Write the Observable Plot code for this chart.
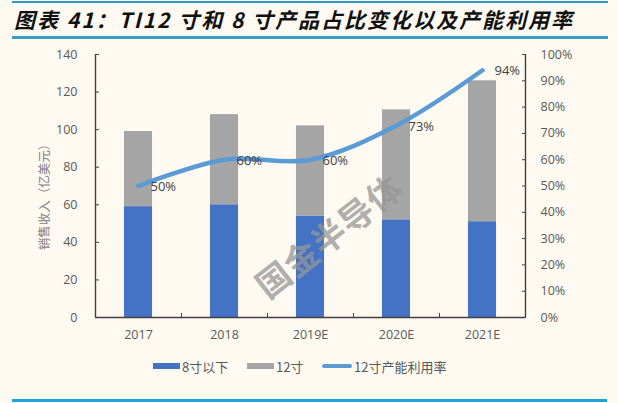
<!DOCTYPE html>
<html>
<head>
<meta charset="utf-8">
<script src="https://cdn.jsdelivr.net/npm/d3@7"></script>
<script src="https://cdn.jsdelivr.net/npm/@observablehq/plot@0.6"></script>
<style>
  html, body { margin: 0; padding: 0; background: #fefaf1; }
  #wrap { position: relative; width: 618px; height: 403px; overflow: hidden; background: #fefaf1;
          font-family: "Open Sans", "Noto Sans CJK SC", sans-serif; }
  .hr { position: absolute; left: 12px; width: 596px; }
  #title { position: absolute; left: 14px; top: 4px; font-family: "Noto Sans CJK SC", sans-serif;
           font-weight: bold; font-style: italic; font-size: 21px; letter-spacing: 2px; color: #111; white-space: nowrap; }
  #chart { position: absolute; left: 0; top: 40px; }
  #ytitle { position: absolute; left: 43px; top: 194px; transform: translate(-50%, -50%) rotate(-90deg);
            font-family: "Noto Sans CJK SC", sans-serif; font-size: 12.5px; color: #808080; white-space: nowrap; }
  #wm { position: absolute; left: 328px; top: 235px; transform: translate(-50%, -50%) rotate(-38deg);
        font-family: "Noto Sans CJK SC", sans-serif; font-weight: bold; font-size: 34px; color: rgba(150,150,150,0.75);
        white-space: nowrap; letter-spacing: 1px; }
  #legend { position: absolute; top: 358px; left: 0; width: 618px; height: 16px;
            font-family: "Noto Sans CJK SC", sans-serif; font-size: 13px; color: #595959; }
  .li { position: absolute; top: 0; display: flex; align-items: center; height: 16px; white-space: nowrap; }
  .sw { display: inline-block; margin-right: 2px; }
</style>
</head>
<body>
<div id="wrap">
  <div class="hr" style="top:1px;height:2px;background:#2c9bd0;"></div>
  <div id="title">图表 41：TI12 寸和 8 寸产品占比变化以及产能利用率</div>
  <div class="hr" style="top:36px;height:3px;background:#3a9cc2;"></div>
  <div id="chart"></div>
  <div id="ytitle">销售收入（亿美元）</div>
  <div id="wm">国金半导体</div>
  <div id="legend"></div>
  <div class="hr" style="top:399px;height:3px;background:#1aa3dc;width:595px;"></div>
</div>
<script>
// ---- data ----
const categories = ["2017", "2018", "2019E", "2020E", "2021E"];
const below8 = [59, 60, 54, 52, 51];          // 8寸以下 (亿美元)
const inch12 = [40, 48, 48, 58.5, 75];        // 12寸 (亿美元)
const utilization = [0.50, 0.60, 0.60, 0.73, 0.94]; // 12寸产能利用率
const leftTicks = [0, 20, 40, 60, 80, 100, 120, 140];
const rightTicks = [0, 10, 20, 30, 40, 50, 60, 70, 80, 90, 100]; // %
const seriesNames = ["8寸以下", "12寸", "12寸产能利用率"];
const colors = ["#4472c4", "#a5a5a5", "#5b9bd5"];

const yMax = 140;
const half = 0.163;
const rows = categories.map((c, i) => ({
  i, c,
  b: below8[i],
  t: below8[i] + inch12[i],
  u: utilization[i],
  uy: utilization[i] * yMax
}));

const axisColor = "#404040";
const labelColor = "#595959";

const chart = Plot.plot({
  width: 618,
  height: 310,
  marginTop: 14,
  marginBottom: 33,
  marginLeft: 95,
  marginRight: 93,
  style: { background: "transparent", fontFamily: "'Open Sans', 'Noto Sans CJK SC', sans-serif", fontSize: "12.5px" },
  x: { domain: [-0.5, categories.length - 0.5] },
  y: { domain: [0, yMax] },
  marks: [
    // bars
    Plot.rectY(rows, { x1: d => d.i - half, x2: d => d.i + half, y1: 0, y2: "b", fill: colors[0] }),
    Plot.rectY(rows, { x1: d => d.i - half, x2: d => d.i + half, y1: "b", y2: "t", fill: colors[1] }),
    // axes lines
    Plot.ruleY([0], { stroke: axisColor, strokeWidth: 1.4 }),
    Plot.ruleX([-0.5, categories.length - 0.5], { stroke: axisColor, strokeWidth: 1.4 }),
    // left axis
    Plot.axisY({ anchor: "left", ticks: leftTicks, tickSize: -4, tickPadding: 22, label: null,
                 stroke: axisColor, color: labelColor, fill: labelColor }),
    // right axis (percent)
    Plot.axisY({ anchor: "right", ticks: rightTicks.map(p => p / 100 * yMax), tickSize: -4, tickPadding: 19, label: null,
                 tickFormat: d => Math.round(d / yMax * 100) + "%", stroke: axisColor, fill: labelColor }),
    // bottom axis: boundary ticks
    Plot.axisX({ anchor: "bottom", ticks: d3.range(0.5, categories.length - 1, 1), tickSize: -4,
                 tickFormat: () => "", label: null, stroke: axisColor }),
    // bottom axis labels
    Plot.axisX({ anchor: "bottom", ticks: d3.range(categories.length), tickSize: 0, tickPadding: 13,
                 tickFormat: i => categories[i], label: null, fill: labelColor }),
    // utilization line
    Plot.line(rows, { x: "i", y: "uy", curve: "catmull-rom", stroke: colors[2], strokeWidth: 4.5,
                      strokeLinecap: "round", strokeLinejoin: "round" }),
    Plot.text(rows, { x: "i", y: "uy", text: d => Math.round(d.u * 100) + "%", dx: 12, dy: 1,
                      textAnchor: "start", fill: "#404040", fontSize: 13 })
  ]
});
document.getElementById("chart").appendChild(chart);

// legend
const legend = document.getElementById("legend");
const legendX = [153, 247, 322];
seriesNames.forEach((name, k) => {
  const item = document.createElement("div");
  item.className = "li";
  item.style.left = legendX[k] + "px";
  const sw = document.createElement("span");
  sw.className = "sw";
  if (k < 2) {
    sw.style.width = "27px"; sw.style.height = "6px"; sw.style.background = colors[k];
  } else {
    sw.style.width = "30px"; sw.style.height = "4px"; sw.style.background = colors[k]; sw.style.borderRadius = "2px";
  }
  item.appendChild(sw);
  const tx = document.createElement("span");
  tx.textContent = name;
  item.appendChild(tx);
  legend.appendChild(item);
});
</script>
</body>
</html>
